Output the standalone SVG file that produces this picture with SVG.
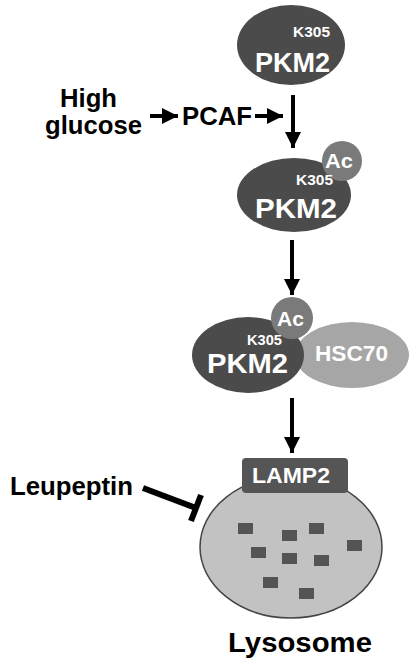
<svg xmlns="http://www.w3.org/2000/svg" width="418" height="671" viewBox="0 0 418 671">
<style>
.dk{fill:#4b4b4b}
.ac{fill:#7a7a7a}
.lt{fill:#a6a6a6}
.wt{fill:#ffffff;font-family:"Liberation Sans",Arial,sans-serif;font-weight:bold}
.bk{fill:#000;font-family:"Liberation Sans",Arial,sans-serif;font-weight:bold}
.ln{stroke:#000;stroke-width:4;fill:none}
.sq{fill:#545454}
</style>
<defs>
<marker id="ah" viewBox="0 0 10 10" refX="10" refY="5" markerWidth="4" markerHeight="4" markerUnits="strokeWidth" orient="auto">
<path d="M0,0 L10,5 L0,10 Z" fill="#000"/>
</marker>
</defs>
<rect width="418" height="671" fill="#fff"/>
<g id="connectors">
<line class="ln" x1="293" y1="95" x2="293" y2="148" marker-end="url(#ah)"/>
<line class="ln" x1="150" y1="116" x2="178" y2="116" marker-end="url(#ah)"/>
<line class="ln" x1="255" y1="116" x2="283" y2="116" marker-end="url(#ah)"/>
<line class="ln" x1="292" y1="240" x2="292" y2="295" marker-end="url(#ah)"/>
<line class="ln" x1="292" y1="398" x2="292" y2="453" marker-end="url(#ah)"/>
<line x1="143" y1="488" x2="196" y2="508" stroke="#000" stroke-width="6"/>
<line x1="201" y1="495" x2="191" y2="521" stroke="#000" stroke-width="6"/>
</g>
<g id="pkm2-top">
<ellipse class="dk" cx="291" cy="45" rx="54" ry="40"/>
<text class="wt" x="293" y="37" font-size="14" textLength="37" lengthAdjust="spacingAndGlyphs">K305</text>
<text class="wt" x="255" y="72" font-size="27" textLength="75" lengthAdjust="spacingAndGlyphs">PKM2</text>
</g>
<g id="high-glucose">
<text class="bk" x="60" y="107" font-size="25" textLength="57" lengthAdjust="spacingAndGlyphs">High</text>
<text class="bk" x="45" y="134" font-size="25" textLength="97" lengthAdjust="spacingAndGlyphs">glucose</text>
</g>
<g id="pcaf">
<text class="bk" x="182" y="125" font-size="25" textLength="70" lengthAdjust="spacingAndGlyphs">PCAF</text>
</g>
<g id="pkm2-ac">
<ellipse class="dk" cx="294" cy="195" rx="57" ry="37"/>
<circle class="ac" cx="342" cy="161" r="20"/>
<text class="wt" x="325" y="168" font-size="21" textLength="28" lengthAdjust="spacingAndGlyphs">Ac</text>
<text class="wt" x="296" y="185" font-size="14" textLength="37" lengthAdjust="spacingAndGlyphs">K305</text>
<text class="wt" x="255" y="218" font-size="28" textLength="82" lengthAdjust="spacingAndGlyphs">PKM2</text>
</g>
<g id="hsc70">
<ellipse class="lt" cx="352" cy="355" rx="57" ry="33"/>
<text class="wt" x="315" y="361" font-size="22" textLength="73" lengthAdjust="spacingAndGlyphs">HSC70</text>
</g>
<g id="pkm2-complex">
<ellipse class="dk" cx="248" cy="355" rx="56" ry="38"/>
<circle class="ac" cx="292" cy="318" r="21"/>
<text class="wt" x="277" y="326" font-size="21" textLength="27" lengthAdjust="spacingAndGlyphs">Ac</text>
<text class="wt" x="247" y="345" font-size="14" textLength="35" lengthAdjust="spacingAndGlyphs">K305</text>
<text class="wt" x="207" y="373" font-size="28" textLength="81" lengthAdjust="spacingAndGlyphs">PKM2</text>
</g>
<g id="leupeptin">
<text class="bk" x="10" y="495" font-size="25" textLength="123" lengthAdjust="spacingAndGlyphs">Leupeptin</text>
</g>
<g id="lysosome">
<ellipse cx="291" cy="547" rx="91" ry="71" fill="#c2c2c2" stroke="#444" stroke-width="1.5"/>
<rect class="sq" x="238" y="523" width="15" height="11"/>
<rect class="sq" x="282" y="530" width="15" height="11"/>
<rect class="sq" x="309" y="523" width="15" height="11"/>
<rect class="sq" x="347" y="540" width="15" height="11"/>
<rect class="sq" x="251" y="547" width="15" height="11"/>
<rect class="sq" x="282" y="553" width="15" height="11"/>
<rect class="sq" x="314" y="555" width="15" height="11"/>
<rect class="sq" x="263" y="577" width="15" height="11"/>
<rect class="sq" x="299" y="588" width="15" height="11"/>
<text class="bk" x="228" y="652" font-size="27" textLength="144" lengthAdjust="spacingAndGlyphs">Lysosome</text>
</g>
<g id="lamp2">
<rect x="242" y="458" width="106" height="35" rx="4" fill="#555"/>
<text class="wt" x="252" y="483" font-size="22" textLength="78" lengthAdjust="spacingAndGlyphs">LAMP2</text>
</g>
</svg>
